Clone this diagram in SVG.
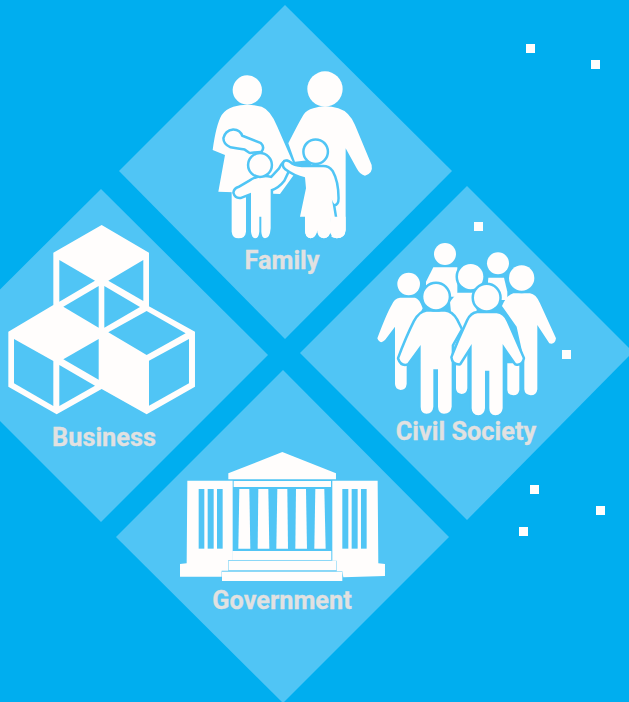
<svg xmlns="http://www.w3.org/2000/svg" width="629" height="702" viewBox="0 0 629 702">
<style>
.d{fill:#50C5F5}
.w{fill:#FFFDFC}
.h{fill:#50C5F5}
.o{fill:#FFFDFC;stroke:#50C5F5;stroke-width:15;stroke-linejoin:round;paint-order:stroke}
.r{stroke:#FFFDFC;stroke-width:6;stroke-linejoin:round}
.t{font-family:"Roboto","Liberation Sans",sans-serif;font-weight:700;font-size:25.3px;fill:#E1E1E1;stroke:#E1E1E1;stroke-width:.3;text-anchor:middle}
.s{fill:#FFFDFC}
</style>
<rect width="629" height="702" fill="#00AEEF"/>
<g id="family">
<polygon class="d" points="285,5 452,171 285,339 119,171"/>
<g transform="translate(200,60) scale(0.3333)">
<circle class="w" cx="142" cy="90" r="44"/>
<circle class="w" cx="375" cy="87" r="53"/>
<path class="w" d="M100,140Q140,128 185,140Q212,150 232,200L282,315L285,340L240,402L55,395L75,285L38,270Q48,195 65,165Q77,147 100,140Z"/>
<path class="w" d="M95,390H138V515Q136,535 116,535Q97,535 95,515Z"/>
<path class="w" d="M340,145Q375,133 415,145Q448,155 465,195L515,315Q520,340 495,347Q480,345 470,325L437,265V510Q435,535 410,535Q385,532 385,510L330,300L285,305L265,250Q295,190 310,165Q320,150 340,145Z"/>
<path class="o" d="M100,212Q118,212 124,230L180,252Q190,262 182,272L150,275L135,265Q115,262 92,258Q74,250 74,235Q78,215 100,212Z"/>
<path class="o" d="M150,365Q180,345 215,355L240,328Q250,305 262,306Q272,312 268,322L250,360Q235,380 212,388V505Q210,535 195,535Q185,533 184,515V470H178V515Q176,535 165,535Q155,533 153,515V398L122,410Q108,412 104,398Q105,388 118,384Z"/>
<circle class="o" cx="180" cy="315" r="32"/>
<path class="o" d="M255,306Q262,302 275,314Q290,322 320,322H370Q385,322 395,335Q412,365 412,415Q412,432 403,432Q395,425 392,395L405,475H392V510Q390,533 372,535Q352,533 352,510Q348,533 332,535Q315,533 315,510V470H300L318,385L315,352Q285,345 258,325Q248,315 255,306Z"/>
<circle class="o" cx="347" cy="275" r="33"/>
<path class="w" d="M392,470H437V510Q435,535 410,535Q392,532 388,510Z"/>
<path class="w" d="M315,470H392V510Q390,533 372,535Q352,533 352,510Q348,533 332,535Q315,533 315,510Z"/>
</g>
<text class="t" x="282" y="269">Family</text>
</g>
<g id="business">
<polygon class="d" points="101,189 268,355 101,522 -66,355"/>
<g transform="translate(0,215) scale(0.3333)">
<path class="w" d="M305,30L447,113V275L440,270L585,350V515L440,598L305,522L170,598L25,515V350L160,270V113Z"/>
<polygon class="h" points="178,135 285,197 178,260"/>
<polygon class="h" points="430,135 325,197 430,258"/>
<polygon class="h" points="190,275 296,213 296,338"/>
<polygon class="h" points="313,213 420,276 313,338"/>
<polygon class="h" points="440,288 557,355 440,420 325,352"/>
<polygon class="h" points="42,372 160,438 160,573 42,505"/>
<polygon class="h" points="190,433 296,372 296,494"/>
<polygon class="h" points="178,450 285,512 178,573"/>
<polygon class="h" points="447,437 567,372 567,505 447,572"/>
</g>
<text class="t" x="104" y="446">Business</text>
</g>
<g id="civil-society">
<polygon class="d" points="467,186 633,352 467,520 300,353"/>
<g transform="translate(370,230) scale(0.3333)">
<circle class="w" cx="225" cy="72" r="33"/>
<circle class="w" cx="384" cy="100" r="33"/>
<path class="w" d="M190,112H262L262,200H168L168,155Z"/>
<path class="w" d="M355,143H402L412,185V210H350Z"/>
<path class="w" d="M262,188H320L320,250L292,285V475Q290,492 275,492Q258,490 258,475V400L240,215Z"/>
<circle class="o" cx="302" cy="140" r="38"/>
<path class="w" d="M412,400H448V480Q446,496 430,496Q412,494 412,480Z"/>
<circle class="w" cx="116" cy="162" r="34"/>
<path class="w" d="M90,203H135Q148,205 158,235L130,290L110,370V462Q108,480 92,480Q76,478 75,462V290L45,330Q30,345 22,325Q50,250 65,225Q72,206 90,203Z"/>
<path class="w" d="M430,190H480Q498,192 510,220L558,325Q555,345 538,340L502,285V478Q500,496 482,496Q464,494 463,478V395L440,290L396,228Q410,195 430,190Z"/>
<circle class="o" cx="455" cy="144" r="38"/>
<path class="o" d="M170,245H225Q245,247 258,270L272,298L245,345V530Q243,550 222,551Q205,550 204,530V418H190V530Q188,550 170,551Q152,550 152,530V345L112,400Q95,405 88,385Q110,325 135,275Q150,247 170,245Z"/>
<circle class="o" cx="198" cy="200" r="38"/>
<path class="o" d="M322,250H380Q400,252 410,275L458,385Q455,403 438,400L398,342V535Q396,555 376,556Q358,555 358,535V422H345V535Q343,555 325,556Q306,555 305,535V342L268,400Q250,400 248,382Q270,325 295,272Q305,252 322,250Z"/>
<circle class="o" cx="350" cy="203" r="38"/>
</g>
<text class="t" x="466" y="440">Civil Society</text>
</g>
<g id="government">
<polygon class="d" points="283,370 449,537 283,703 116,537"/>
<g transform="translate(170,440) scale(0.3333)">
<path class="w" d="M337,36L498,100V118H175V100Z"/>
<rect class="w" x="191" y="123" width="292" height="18"/>
<path class="w" d="M208,147H238L241,326H205Z"/>
<path class="w" d="M265,147H295L298,326H263Z"/>
<path class="w" d="M322,147H352L354,326H319Z"/>
<path class="w" d="M378,147H408L411,326H376Z"/>
<path class="w" d="M436,147H463L467,326H433Z"/>
<rect class="w" x="187" y="333" width="297" height="27"/>
<rect class="w" x="176" y="362" width="323" height="29"/>
<rect class="w" x="156" y="395" width="361" height="28"/>
<path class="w" d="M52,122H188V360H175V392H155V410H30V372L50,370Z"/>
<path class="w" d="M487,122H623L625,370L645,372V408L520,412L517,394H500V362H487Z"/>
<rect class="h" x="86" y="147" width="17" height="179"/>
<rect class="h" x="113" y="147" width="18" height="179"/>
<rect class="h" x="141" y="147" width="17" height="179"/>
<rect class="h" x="517" y="147" width="18" height="179"/>
<rect class="h" x="545" y="147" width="18" height="179"/>
<rect class="h" x="573" y="147" width="17" height="179"/>
</g>
<text class="t" x="282" y="609">Government</text>
</g>
<g id="dots">
<rect class="s" x="526" y="44" width="9" height="9"/>
<rect class="s" x="591" y="60" width="9" height="9"/>
<rect class="s" x="474" y="222" width="9" height="9"/>
<rect class="s" x="562" y="350" width="9" height="9"/>
<rect class="s" x="530" y="485" width="9" height="9"/>
<rect class="s" x="596" y="506" width="9" height="9"/>
<rect class="s" x="519" y="527" width="9" height="9"/>
</g>
</svg>
